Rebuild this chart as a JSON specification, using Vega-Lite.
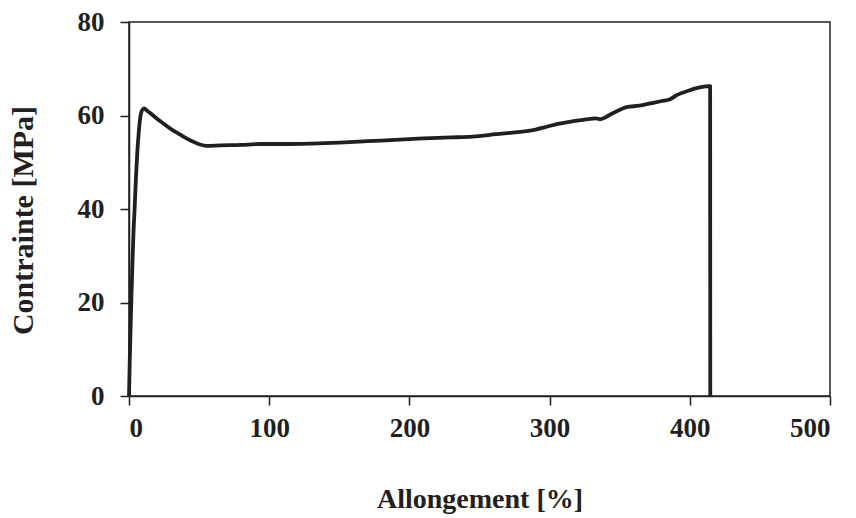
{
  "$schema": "https://vega.github.io/schema/vega-lite/v6.json",
  "width": 701,
  "height": 374,
  "autosize": {"type": "none"},
  "padding": {"left": 129, "top": 22, "right": 26, "bottom": 122},
  "background": "white",
  "config": {
    "view": {"stroke": "#231f20", "strokeWidth": 1.5},
    "font": "Liberation Serif",
    "axis": {
      "grid": false,
      "domainColor": "#231f20",
      "domainWidth": 1.5,
      "tickColor": "#231f20",
      "tickWidth": 1.5,
      "tickSize": 9,
      "labelFont": "Liberation Serif",
      "labelFontWeight": "bold",
      "labelFontSize": 27,
      "labelColor": "#231f20",
      "titleFont": "Liberation Serif",
      "titleFontWeight": "bold",
      "titleFontSize": 28,
      "titleColor": "#231f20"
    }
  },
  "data": {
    "values": [
      {"x": 0, "y": 0},
      {"x": 0.5, "y": 7},
      {"x": 1.0, "y": 13},
      {"x": 1.6, "y": 20},
      {"x": 2.4, "y": 28},
      {"x": 3.2, "y": 35},
      {"x": 4.0, "y": 40},
      {"x": 5.0, "y": 47},
      {"x": 6.0, "y": 52.5},
      {"x": 7.0, "y": 56.5},
      {"x": 8.0, "y": 59.5},
      {"x": 9.3, "y": 61.1},
      {"x": 10.8, "y": 61.5},
      {"x": 13, "y": 61.0},
      {"x": 16, "y": 60.3},
      {"x": 20, "y": 59.3},
      {"x": 25, "y": 58.2},
      {"x": 30, "y": 57.1},
      {"x": 35, "y": 56.2},
      {"x": 41, "y": 55.1},
      {"x": 48, "y": 54.1},
      {"x": 56, "y": 53.5},
      {"x": 65, "y": 53.6},
      {"x": 80, "y": 53.7},
      {"x": 93, "y": 53.9},
      {"x": 110, "y": 53.9},
      {"x": 130, "y": 54.0},
      {"x": 150, "y": 54.2},
      {"x": 170, "y": 54.5},
      {"x": 190, "y": 54.8},
      {"x": 210, "y": 55.1},
      {"x": 230, "y": 55.3},
      {"x": 245, "y": 55.5},
      {"x": 262, "y": 56.0},
      {"x": 279, "y": 56.5},
      {"x": 290, "y": 57.0},
      {"x": 298, "y": 57.6},
      {"x": 306, "y": 58.2},
      {"x": 315, "y": 58.7},
      {"x": 325, "y": 59.1},
      {"x": 333, "y": 59.4},
      {"x": 336, "y": 59.2},
      {"x": 345, "y": 60.5},
      {"x": 355, "y": 61.8},
      {"x": 364, "y": 62.1},
      {"x": 372, "y": 62.6},
      {"x": 380, "y": 63.1},
      {"x": 386, "y": 63.5},
      {"x": 391, "y": 64.4},
      {"x": 400, "y": 65.4},
      {"x": 407, "y": 66.0},
      {"x": 414.5, "y": 66.3},
      {"x": 414.6, "y": 0}
    ]
  },
  "mark": {"type": "line", "color": "#231f20", "strokeWidth": 3.8, "strokeJoin": "round", "strokeCap": "butt", "interpolate": "monotone"},
  "encoding": {
    "x": {
      "field": "x",
      "type": "quantitative",
      "scale": {"domain": [0, 500], "nice": false, "zero": true},
      "axis": {"title": "Allongement [%]", "values": [0, 100, 200, 300, 400, 500], "labelPadding": 10, "titlePadding": 44}
    },
    "y": {
      "field": "y",
      "type": "quantitative",
      "scale": {"domain": [0, 80], "nice": false},
      "axis": {"title": "Contrainte [MPa]", "titleFontSize": 30, "titleY": 198, "values": [0, 20, 40, 60, 80], "labelPadding": 16, "titlePadding": 39}
    }
  }
}
